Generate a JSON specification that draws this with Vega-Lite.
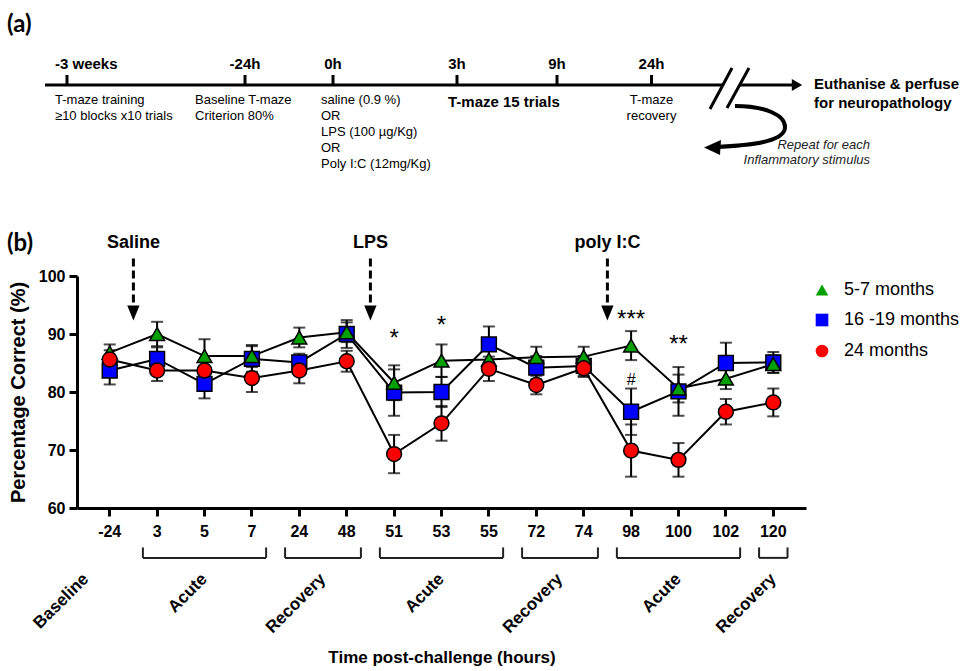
{
  "$schema": "https://vega.github.io/schema/vega-lite/v6.json",
  "background": "white",
  "padding": {"left": 7, "top": 13, "right": 2, "bottom": 2},
  "spacing": 60,
  "resolve": {"legend": {"fill": "independent", "shape": "independent"}, "scale": {"fill": "independent", "shape": "independent"}},
  "config": {
    "font": "Liberation Sans",
    "view": {"stroke": null},
    "text": {"color": "black"}
  },
  "datasets": {
    "events": [
      {"t": -504, "label": "-3 weeks", "desc": "T-maze training\n≥10 blocks x10 trials"},
      {"t": -24, "label": "-24h", "desc": "Baseline T-maze\nCriterion 80%"},
      {"t": 0, "label": "0h", "desc": "saline (0.9 %)\nOR\nLPS (100 µg/Kg)\nOR\nPoly I:C  (12mg/Kg)"},
      {"t": 3, "label": "3h", "phase": "T-maze 15 trials"},
      {"t": 9, "label": "9h"},
      {"t": 24, "label": "24h", "desc": "T-maze\nrecovery"}
    ],
    "axisline": [{"t": -540, "t2": 52}],
    "breaks": [{"t": 38}],
    "ends": [{"t": 52, "goal": "Euthanise & perfuse\nfor neuropathology", "note": "Repeat for each\nInflammatory stimulus"}],
    "scores": [
      {"hour": -24, "group": "16 -19 months", "mean": 83.7, "sem": 2.4},
      {"hour": 3, "group": "16 -19 months", "mean": 85.7, "sem": 2.0},
      {"hour": 5, "group": "16 -19 months", "mean": 81.4, "sem": 2.5},
      {"hour": 7, "group": "16 -19 months", "mean": 85.7, "sem": 2.2},
      {"hour": 24, "group": "16 -19 months", "mean": 85.1, "sem": 1.5},
      {"hour": 48, "group": "16 -19 months", "mean": 90.0, "sem": 2.4},
      {"hour": 51, "group": "16 -19 months", "mean": 79.9, "sem": 4.0},
      {"hour": 53, "group": "16 -19 months", "mean": 80.0, "sem": 2.6},
      {"hour": 55, "group": "16 -19 months", "mean": 88.2, "sem": 3.1},
      {"hour": 72, "group": "16 -19 months", "mean": 84.2, "sem": 2.0},
      {"hour": 74, "group": "16 -19 months", "mean": 84.5, "sem": 1.7},
      {"hour": 98, "group": "16 -19 months", "mean": 76.6, "sem": 4.0},
      {"hour": 100, "group": "16 -19 months", "mean": 80.1, "sem": 4.2},
      {"hour": 102, "group": "16 -19 months", "mean": 85.0, "sem": 3.5},
      {"hour": 120, "group": "16 -19 months", "mean": 85.1, "sem": 1.8},
      {"hour": -24, "group": "5-7 months", "mean": 86.8, "sem": 1.4},
      {"hour": 3, "group": "5-7 months", "mean": 90.0, "sem": 2.1},
      {"hour": 5, "group": "5-7 months", "mean": 86.2, "sem": 2.9},
      {"hour": 7, "group": "5-7 months", "mean": 86.2, "sem": 1.9},
      {"hour": 24, "group": "5-7 months", "mean": 89.4, "sem": 1.7},
      {"hour": 48, "group": "5-7 months", "mean": 90.3, "sem": 1.7},
      {"hour": 51, "group": "5-7 months", "mean": 81.6, "sem": 3.0},
      {"hour": 53, "group": "5-7 months", "mean": 85.4, "sem": 2.8},
      {"hour": 55, "group": "5-7 months", "mean": 85.6, "sem": 1.8},
      {"hour": 72, "group": "5-7 months", "mean": 86.0, "sem": 1.8},
      {"hour": 74, "group": "5-7 months", "mean": 86.1, "sem": 1.7},
      {"hour": 98, "group": "5-7 months", "mean": 88.0, "sem": 2.5},
      {"hour": 100, "group": "5-7 months", "mean": 80.6, "sem": 2.4},
      {"hour": 102, "group": "5-7 months", "mean": 82.3, "sem": 1.8},
      {"hour": 120, "group": "5-7 months", "mean": 84.8, "sem": 1.5},
      {"hour": -24, "group": "24 months", "mean": 85.6, "sem": 1.6},
      {"hour": 3, "group": "24 months", "mean": 83.7, "sem": 1.8},
      {"hour": 5, "group": "24 months", "mean": 83.7, "sem": 1.6},
      {"hour": 7, "group": "24 months", "mean": 82.4, "sem": 2.4},
      {"hour": 24, "group": "24 months", "mean": 83.7, "sem": 2.2},
      {"hour": 48, "group": "24 months", "mean": 85.3, "sem": 1.8},
      {"hour": 51, "group": "24 months", "mean": 69.3, "sem": 3.3},
      {"hour": 53, "group": "24 months", "mean": 74.6, "sem": 3.0},
      {"hour": 55, "group": "24 months", "mean": 84.0, "sem": 2.1},
      {"hour": 72, "group": "24 months", "mean": 81.2, "sem": 1.6},
      {"hour": 74, "group": "24 months", "mean": 84.1, "sem": 1.5},
      {"hour": 98, "group": "24 months", "mean": 69.9, "sem": 4.5},
      {"hour": 100, "group": "24 months", "mean": 68.3, "sem": 2.9},
      {"hour": 102, "group": "24 months", "mean": 76.6, "sem": 2.2},
      {"hour": 120, "group": "24 months", "mean": 78.2, "sem": 2.4}
    ],
    "challenges": [
      {"agent": "Saline", "before": 3},
      {"agent": "LPS", "before": 51},
      {"agent": "poly I:C", "before": 98}
    ],
    "phases": [
      {"label": "Baseline", "at0": -24},
      {"label": "Acute", "from": 3, "to": 7, "at": 5},
      {"label": "Recovery", "from": 24, "to": 48, "at0": 48},
      {"label": "Acute", "from": 51, "to": 55, "at": 53},
      {"label": "Recovery", "from": 72, "to": 74, "at0": 74},
      {"label": "Acute", "from": 98, "to": 102, "at": 100},
      {"label": "Recovery", "from": 120, "to": 120, "at": 120}
    ],
    "sig": [
      {"hour": 51, "sig": "*", "level": 90.3},
      {"hour": 53, "sig": "*", "level": 92.6},
      {"hour": 98, "sig": "***", "level": 93.7},
      {"hour": 100, "sig": "**", "level": 89.3},
      {"hour": 98, "sig": "#", "level": 82.1}
    ]
  },
  "vconcat": [
    {
      "width": 729,
      "height": 2,
      "title": {"text": "(a)", "anchor": "start", "frame": "group", "dx": -70, "offset": 20, "fontSize": 24, "font": "Lato", "fontWeight": "bold", "color": "black"},
      "encoding": {
        "x": {"field": "t", "type": "quantitative", "axis": null,
          "scale": {"domain": [-540, -504, -24, 0, 3, 9, 24, 38, 52], "range": [-32, -10, 168, 256, 380, 480, 574.5, 653, 720], "zero": false, "nice": false}}
      },
      "layer": [
        {"data": {"name": "axisline"}, "mark": {"type": "rule", "strokeWidth": 3, "color": "black"}, "encoding": {"x2": {"field": "t2"}}},
        {"data": {"name": "events"}, "mark": {"type": "point", "shape": "M0,-1V0", "size": 400, "filled": false, "stroke": "black", "strokeWidth": 3, "opacity": 1}},
        {"data": {"name": "events"}, "mark": {"type": "text", "fontSize": 15, "fontWeight": "bold", "baseline": "middle", "dy": -21,
          "align": {"expr": "datum.t < -100 ? 'left' : 'center'"}, "dx": {"expr": "datum.t < -100 ? -12 : 0"}},
          "encoding": {"text": {"field": "label"}}},
        {"data": {"name": "events"}, "transform": [{"filter": "isValid(datum.desc)"}],
          "mark": {"type": "text", "fontSize": 13, "lineBreak": "\n", "lineHeight": 16, "baseline": "top", "dy": 9,
            "align": {"expr": "datum.t == 24 ? 'center' : 'left'"}, "dx": {"expr": "datum.t == -24 ? -50 : datum.t == 24 ? 0 : -12"}},
          "encoding": {"text": {"field": "desc"}}},
        {"data": {"name": "events"}, "transform": [{"filter": "isValid(datum.phase)"}],
          "mark": {"type": "text", "fontSize": 15, "fontWeight": "bold", "baseline": "middle", "align": "left", "dx": -9, "dy": 17},
          "encoding": {"text": {"field": "phase"}}},
        {"data": {"name": "breaks"}, "mark": {"type": "point", "shape": "M-0.8,0.96L0.08,-0.68L0.76,-0.68L-0.12,0.92Z", "size": 2500, "filled": true, "fill": "white", "strokeWidth": 0, "opacity": 1}},
        {"data": {"name": "breaks"}, "mark": {"type": "point", "shape": "M-0.8,0.96L0.08,-0.68M-0.12,0.92L0.76,-0.68", "size": 2500, "filled": false, "stroke": "black", "strokeWidth": 3, "opacity": 1}},
        {"data": {"name": "breaks"}, "mark": {"type": "point", "shape": "M0.1,0.42C0.7,0.42 1.1,0.6 1.1,0.84C1.1,1.1 0.6,1.2 -0.3,1.24", "size": 10000, "filled": false, "stroke": "black", "strokeWidth": 4, "opacity": 1}},
        {"data": {"name": "breaks"}, "mark": {"type": "point", "shape": "M-0.52,1.25L-0.18,1.1L-0.2,1.4Z", "size": 10000, "filled": true, "fill": "black", "strokeWidth": 0, "opacity": 1}},
        {"data": {"name": "ends"}, "mark": {"type": "point", "shape": "triangle-right", "size": 144, "filled": true, "fill": "black", "strokeWidth": 0, "opacity": 1}},
        {"data": {"name": "ends"}, "mark": {"type": "text", "fontSize": 15, "fontWeight": "bold", "lineBreak": "\n", "lineHeight": 19, "align": "left", "baseline": "middle", "dx": 17, "dy": -1},
          "encoding": {"text": {"field": "goal"}}},
        {"data": {"name": "ends"}, "mark": {"type": "text", "fontSize": 13, "fontStyle": "italic", "lineBreak": "\n", "lineHeight": 15, "align": "right", "baseline": "top", "dx": 73, "dy": 54, "color": "#222"},
          "encoding": {"text": {"field": "note"}}}
      ]
    },
    {
      "width": 729,
      "height": 232,
      "title": {"text": "(b)", "anchor": "start", "frame": "group", "dx": -70, "offset": -22, "fontSize": 24, "font": "Lato", "fontWeight": "bold", "color": "black"},
      "layer": [
        {"data": {"name": "scores"}, "mark": {"type": "errorbar", "color": "black", "ticks": {"size": 12, "thickness": 2}, "rule": {"strokeWidth": 2}},
          "encoding": {
            "x": {"field": "hour", "type": "ordinal", "title": "Time post-challenge (hours)",
              "scale": {"type": "band", "domain": [-24, 3, 5, 7, 24, 48, 51, 53, 55, 72, 74, 98, 100, 102, 120], "paddingInner": 0, "paddingOuter": 0.19},
              "axis": {"labelAngle": 0, "labelFontSize": 16, "labelFontWeight": "bold", "labelColor": "black", "labelPadding": 7,
                "tickSize": 8, "tickWidth": 3, "tickColor": "black", "domainWidth": 3, "domainColor": "black",
                "titleFontSize": 17, "titleFontWeight": "bold", "titleColor": "black", "titlePadding": 110, "grid": false}},
            "y": {"field": "mean", "type": "quantitative", "title": "Percentage Correct (%)",
              "scale": {"domain": [60, 100], "nice": false, "zero": false},
              "axis": {"values": [60, 70, 80, 90, 100], "labelFontSize": 16, "labelFontWeight": "bold", "labelColor": "black", "labelPadding": 4,
                "tickSize": 8, "tickWidth": 3, "tickColor": "black", "domainWidth": 3, "domainColor": "black",
                "titleFontSize": 20, "titleFontWeight": "bold", "titleColor": "black", "titlePadding": 10, "grid": false}},
            "yError": {"field": "sem"}}},
        {"data": {"name": "scores"}, "mark": {"type": "line", "color": "black", "strokeWidth": 2},
          "encoding": {
            "x": {"field": "hour", "type": "ordinal", "title": "Time post-challenge (hours)"},
            "y": {"field": "mean", "type": "quantitative", "title": "Percentage Correct (%)"},
            "detail": {"field": "group"}}},
        {"data": {"name": "scores"}, "mark": {"type": "point", "filled": true, "size": 220, "stroke": "black", "strokeWidth": 1.5, "opacity": 1},
          "encoding": {
            "x": {"field": "hour", "type": "ordinal", "title": "Time post-challenge (hours)"},
            "y": {"field": "mean", "type": "quantitative", "title": "Percentage Correct (%)"},
            "shape": {"field": "group", "type": "nominal", "title": null,
              "scale": {"domain": ["5-7 months", "16 -19 months", "24 months"], "range": ["triangle-up", "square", "circle"]},
              "legend": {"orient": "right", "offset": 2, "padding": 5, "labelFontSize": 18, "labelColor": "black",
                "symbolSize": 160, "symbolStrokeColor": "black", "symbolStrokeWidth": 1.5, "rowPadding": 11, "labelOffset": 13,
                "encode": {"symbols": {"stroke": {"value": "black"}, "strokeWidth": {"value": 1.5}}}}},
            "fill": {"field": "group", "type": "nominal", "title": null,
              "scale": {"domain": ["5-7 months", "16 -19 months", "24 months"], "range": ["#00A000", "#0000FF", "#FF0000"]},
              "legend": {"orient": "right", "offset": 2, "padding": 5, "labelFontSize": 18, "labelColor": "black",
                "symbolSize": 160, "symbolStrokeColor": "black", "symbolStrokeWidth": 1.5, "rowPadding": 11, "labelOffset": 13,
                "encode": {"symbols": {"stroke": {"value": "black"}, "strokeWidth": {"value": 1.5}}}}}
          }},
        {"data": {"name": "phases"}, "transform": [{"filter": "isValid(datum.from)"}], "mark": {"type": "rule", "color": "#222", "strokeWidth": 2},
          "encoding": {"x": {"field": "from", "type": "ordinal", "bandPosition": 0.2, "title": "Time post-challenge (hours)"}, "x2": {"field": "to", "bandPosition": 0.8}, "y": {"datum": 51.4}}},
        {"data": {"name": "phases"}, "transform": [{"filter": "isValid(datum.from)"}], "mark": {"type": "rule", "color": "#222", "strokeWidth": 2},
          "encoding": {"x": {"field": "from", "type": "ordinal", "bandPosition": 0.2, "title": "Time post-challenge (hours)"}, "y": {"datum": 51.4}, "y2": {"datum": 53.2}}},
        {"data": {"name": "phases"}, "transform": [{"filter": "isValid(datum.from)"}], "mark": {"type": "rule", "color": "#222", "strokeWidth": 2},
          "encoding": {"x": {"field": "to", "type": "ordinal", "bandPosition": 0.8, "title": "Time post-challenge (hours)"}, "y": {"datum": 51.4}, "y2": {"datum": 53.2}}},
        {"data": {"name": "phases"}, "transform": [{"filter": "isValid(datum.at)"}],
          "mark": {"type": "text", "angle": 315, "align": "right", "baseline": "middle", "fontSize": 17, "fontWeight": "bold", "color": "black"},
          "encoding": {"x": {"field": "at", "type": "ordinal", "title": "Time post-challenge (hours)"}, "y": {"datum": 48.2}, "text": {"field": "label"}}},
        {"data": {"name": "phases"}, "transform": [{"filter": "isValid(datum.at0)"}],
          "mark": {"type": "text", "angle": 315, "align": "right", "baseline": "middle", "fontSize": 17, "fontWeight": "bold", "color": "black"},
          "encoding": {"x": {"field": "at0", "type": "ordinal", "bandPosition": 0, "title": "Time post-challenge (hours)"}, "y": {"datum": 48.2}, "text": {"field": "label"}}},
        {"data": {"name": "challenges"}, "mark": {"type": "rule", "color": "black", "strokeWidth": 3, "strokeDash": [8, 4]},
          "encoding": {"x": {"field": "before", "type": "ordinal", "bandPosition": 0, "title": "Time post-challenge (hours)"}, "y": {"datum": 103.0}, "y2": {"datum": 95.0}}},
        {"data": {"name": "challenges"}, "mark": {"type": "point", "shape": "M-0.82,-1L0.82,-1L0,1Z", "size": 225, "filled": true, "fill": "black", "strokeWidth": 0, "opacity": 1},
          "encoding": {"x": {"field": "before", "type": "ordinal", "bandPosition": 0, "title": "Time post-challenge (hours)"}, "y": {"datum": 93.6}}},
        {"data": {"name": "challenges"}, "mark": {"type": "text", "fontSize": 18, "fontWeight": "bold", "baseline": "middle", "align": "center", "color": "black"},
          "encoding": {"x": {"field": "before", "type": "ordinal", "bandPosition": 0, "title": "Time post-challenge (hours)"}, "y": {"datum": 105.7}, "text": {"field": "agent"}}},
        {"data": {"name": "sig"}, "transform": [{"filter": "datum.sig != '#'"}],
          "mark": {"type": "text", "fontSize": 24, "baseline": "middle", "align": "center", "dy": 7, "color": "black"},
          "encoding": {"x": {"field": "hour", "type": "ordinal", "title": "Time post-challenge (hours)"}, "y": {"field": "level", "type": "quantitative", "title": "Percentage Correct (%)"}, "text": {"field": "sig"}}},
        {"data": {"name": "sig"}, "transform": [{"filter": "datum.sig == '#'"}],
          "mark": {"type": "text", "fontSize": 16, "baseline": "middle", "align": "center", "color": "black"},
          "encoding": {"x": {"field": "hour", "type": "ordinal", "title": "Time post-challenge (hours)"}, "y": {"field": "level", "type": "quantitative", "title": "Percentage Correct (%)"}, "text": {"field": "sig"}}}
      ]
    }
  ]
}
